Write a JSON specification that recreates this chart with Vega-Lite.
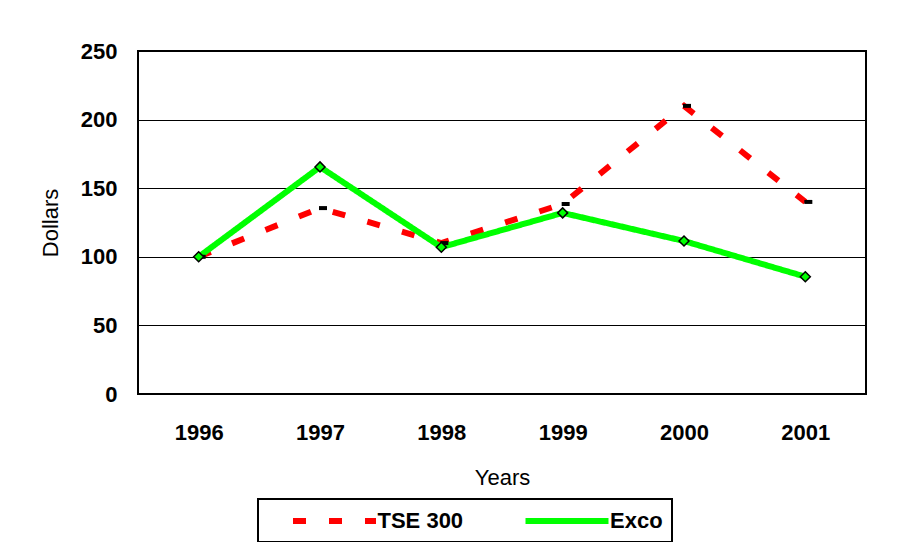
{
  "$schema": "https://vega.github.io/schema/vega-lite/v6.json",
  "width": 728,
  "height": 343,
  "autosize": {"type": "none"},
  "padding": {"left": 138, "top": 51, "right": 55, "bottom": 148},
  "background": "white",
  "config": {
    "font": "Liberation Sans",
    "view": {"stroke": "black", "strokeWidth": 2},
    "axis": {
      "labelFont": "Liberation Sans",
      "labelFontSize": 22,
      "labelFontWeight": "bold",
      "labelColor": "black",
      "titleFont": "Liberation Sans",
      "titleFontSize": 22,
      "titleFontWeight": "normal",
      "titleColor": "black",
      "ticks": false,
      "tickSize": 0,
      "domain": false
    },
    "legend": {
      "strokeWidth": 2
    }
  },
  "data": {
    "values": [
      {"year": "1996", "series": "TSE 300", "value": 100},
      {"year": "1997", "series": "TSE 300", "value": 135.5},
      {"year": "1998", "series": "TSE 300", "value": 110},
      {"year": "1999", "series": "TSE 300", "value": 138.5},
      {"year": "2000", "series": "TSE 300", "value": 210},
      {"year": "2001", "series": "TSE 300", "value": 140},
      {"year": "1996", "series": "Exco", "value": 100},
      {"year": "1997", "series": "Exco", "value": 165.5},
      {"year": "1998", "series": "Exco", "value": 107},
      {"year": "1999", "series": "Exco", "value": 132},
      {"year": "2000", "series": "Exco", "value": 111.5},
      {"year": "2001", "series": "Exco", "value": 85.5}
    ]
  },
  "encoding": {
    "x": {
      "field": "year",
      "type": "ordinal",
      "scale": {"type": "point", "padding": 0.5},
      "axis": {"labelAngle": 0, "labelPadding": 28, "title": "Years", "titlePadding": 24, "grid": false}
    },
    "y": {
      "field": "value",
      "type": "quantitative",
      "scale": {"domain": [0, 250], "nice": false},
      "axis": {
        "values": [0, 50, 100, 150, 200, 250],
        "grid": true,
        "gridColor": "black",
        "gridWidth": 1,
        "gridOpacity": 1,
        "labelPadding": 21,
        "title": "Dollars",
        "titlePadding": 18
      }
    }
  },
  "layer": [
    {
      "mark": {"type": "line", "strokeWidth": 6, "strokeCap": "butt", "strokeJoin": "miter"},
      "encoding": {
        "color": {
          "field": "series",
          "type": "nominal",
          "scale": {"domain": ["TSE 300", "Exco"], "range": ["#ff0000", "#00ff00"]},
          "legend": {
            "title": null,
            "orient": "none",
            "legendX": 120,
            "legendY": 448,
            "direction": "horizontal",
            "strokeColor": "black",
            "padding": 9,
            "symbolType": "M-4.15,0H4.15",
            "symbolSize": 400,
            "symbolStrokeWidth": 6,
            "symbolOffset": 54.5,
            "labelFont": "Liberation Sans",
            "labelFontSize": 22,
            "labelFontWeight": "bold",
            "labelColor": "black",
            "labelOffset": 30,
            "columnPadding": 35.5,
            "labelExpr": "datum.label === 'Exco' ? 'Exco\u00a0\u00a0\u00a0\u00a0\u00a0\u00a0' : datum.label"
          }
        },
        "strokeDash": {
          "field": "series",
          "type": "nominal",
          "scale": {"domain": ["TSE 300", "Exco"], "range": [[13, 23], [1, 0]]},
          "legend": {"title": null}
        }
      }
    },
    {
      "transform": [{"filter": "datum.series === 'TSE 300'"}],
      "mark": {"type": "point", "shape": "M-1,-0.5H1V0.5H-1Z", "filled": true, "color": "black", "size": 64, "opacity": 1, "xOffset": 3}
    },
    {
      "transform": [{"filter": "datum.series === 'Exco'"}],
      "mark": {"type": "point", "shape": "diamond", "filled": true, "fill": "#00ff00", "stroke": "black", "strokeWidth": 1.5, "size": 100, "opacity": 1}
    }
  ]
}
